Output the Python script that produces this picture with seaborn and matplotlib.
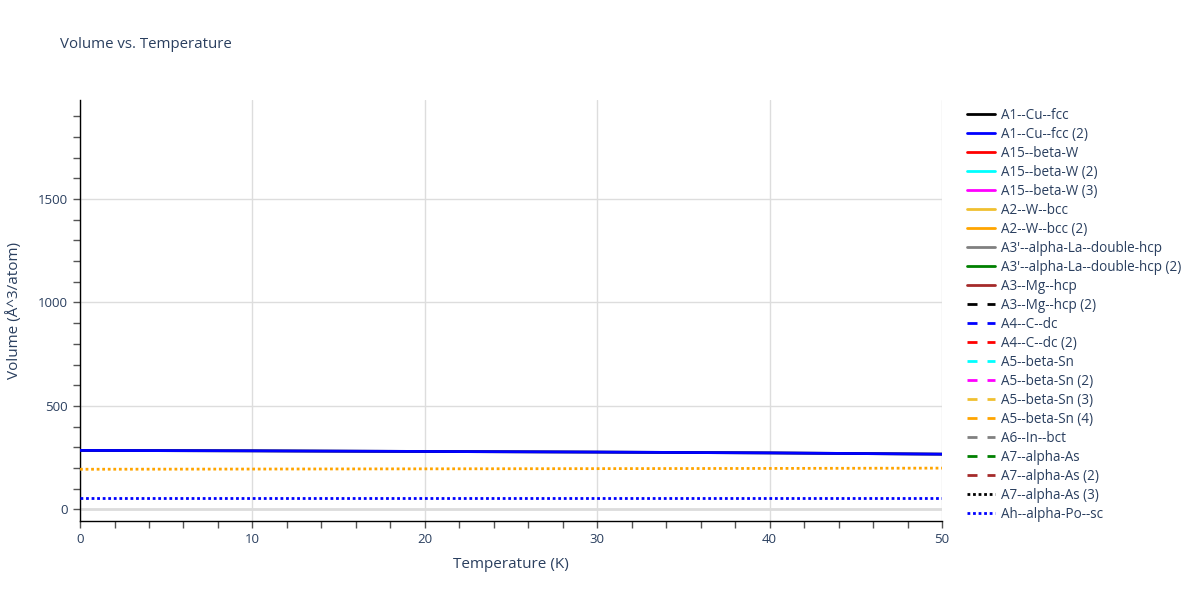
import numpy as np
import pandas as pd
import matplotlib
matplotlib.use("Agg")
import matplotlib.pyplot as plt
from matplotlib.lines import Line2D
from matplotlib.ticker import MultipleLocator
import seaborn as sns

# temperatures (K)
temps = [0, 10, 20, 30, 40, 50]

# visible series (Å^3/atom)
cu_fcc = [285, 283, 280, 277, 273, 267]
cu_fcc_2 = [285, 283, 280, 277, 273, 267]
orange_dot = [194, 195, 196, 197, 198, 199.5]
po_sc = [55, 55, 55, 55, 55, 55]

# legend entries
names = ["A1--Cu--fcc", "A1--Cu--fcc (2)", "A15--beta-W", "A15--beta-W (2)",
         "A15--beta-W (3)", "A2--W--bcc", "A2--W--bcc (2)",
         "A3'--alpha-La--double-hcp", "A3'--alpha-La--double-hcp (2)",
         "A3--Mg--hcp", "A3--Mg--hcp (2)", "A4--C--dc", "A4--C--dc (2)",
         "A5--beta-Sn", "A5--beta-Sn (2)", "A5--beta-Sn (3)", "A5--beta-Sn (4)",
         "A6--In--bct", "A7--alpha-As", "A7--alpha-As (2)", "A7--alpha-As (3)",
         "Ah--alpha-Po--sc"]
colors = ["black", "blue", "red", "cyan", "magenta", "#f0c030", "orange",
          "gray", "green", "brown", "black", "blue", "red", "cyan", "magenta",
          "#f0c030", "orange", "gray", "green", "brown", "black", "blue"]
dash = (0, (3.6, 3.6))
dot = (0, (1, 1))
styles = ["-"] * 10 + [dash] * 10 + [dot] * 2

sns.set_theme(style="white")
plt.rcParams['font.family'] = ['Open Sans', 'DejaVu Sans']
text_c = "#2a3f5f"

fig = plt.figure(figsize=(12, 6), dpi=100)
ax = fig.add_axes([0.0667, 0.132, 0.7183, 0.701])

ax.axhline(0, color="#dcdcdc", lw=2, zorder=1)

df = pd.DataFrame({"T": temps, "cu": cu_fcc, "cu2": cu_fcc_2,
                   "orange": orange_dot, "po": po_sc})
sns.lineplot(data=df, x="T", y="cu", color="black", lw=2, ax=ax, zorder=3)
sns.lineplot(data=df, x="T", y="cu2", color="blue", lw=2, ax=ax, zorder=4)
sns.lineplot(data=df, x="T", y="orange", color="orange", lw=2,
             linestyle=dot, ax=ax, zorder=3)
sns.lineplot(data=df, x="T", y="po", color="blue", lw=2,
             linestyle=dot, ax=ax, zorder=3)

ax.set_xlim(0, 50)
ax.set_ylim(-55, 1977)
ax.xaxis.set_major_locator(MultipleLocator(10))
ax.xaxis.set_minor_locator(MultipleLocator(2))
ax.yaxis.set_major_locator(MultipleLocator(500))
ax.yaxis.set_minor_locator(MultipleLocator(100))
ax.grid(True, which="major", color="#dddddd", lw=1)
ax.set_axisbelow(True)
for s in ["top", "right"]:
    ax.spines[s].set_visible(False)
for s in ["left", "bottom"]:
    ax.spines[s].set_color("black")
    ax.spines[s].set_linewidth(1)
ax.tick_params(which="both", direction="out", length=5, color="#555555",
               labelsize=9.5, labelcolor=text_c, left=True, bottom=True, width=1)
ax.tick_params(axis="y", pad=4)
ax.set_xlabel("Temperature (K)", fontsize=11, color=text_c, labelpad=8)
ax.set_ylabel("Volume (Å^3/atom)", fontsize=11, color=text_c, labelpad=11)

fig.text(0.05, 0.925, "Volume vs. Temperature", fontsize=10.8, color=text_c,
         va="center")

handles = [Line2D([], [], color=c, lw=2, linestyle=s) for c, s in zip(colors, styles)]
leg = fig.legend(handles, names, loc="upper left", bbox_to_anchor=(0.8, 0.832),
                 frameon=False, fontsize=9.75, handlelength=2.1, labelspacing=0.296,
                 handletextpad=0.45, borderpad=0)
for t in leg.get_texts():
    t.set_color(text_c)

fig.savefig("out.png", dpi=100)
